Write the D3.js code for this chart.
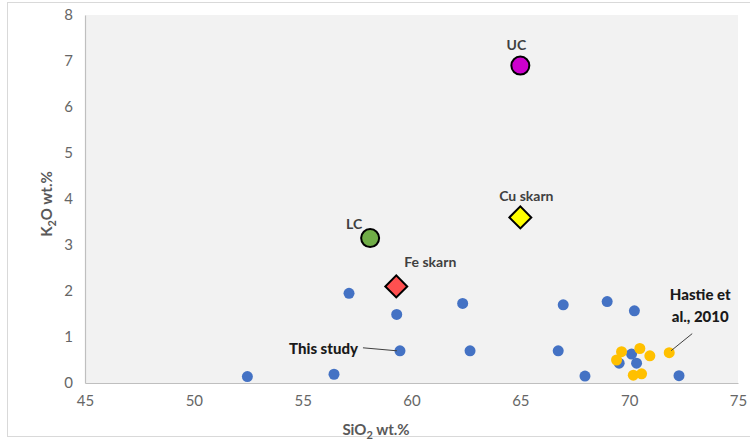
<!DOCTYPE html>
<html>
<head>
  <script src="https://cdnjs.cloudflare.com/ajax/libs/d3/7.8.5/d3.min.js"></script>
  <style>
    body { margin: 0; background: #fff; }
    text { font-family: Lato, "Open Sans", sans-serif; }
  </style>
</head>
<body>
  <div id="chart"></div>

  <script>
    // this study (blue)
    var studySiO2 = [52.46, 56.44, 57.13, 59.32, 59.47, 62.35, 62.69, 66.74, 66.97, 67.97, 68.99, 70.24, 72.29, 70.11, 69.54, 70.34];
    var studyK2O  = [0.14, 0.19, 1.95, 1.49, 0.70, 1.73, 0.70, 0.70, 1.70, 0.15, 1.77, 1.57, 0.16, 0.63, 0.43, 0.43];

    // Hastie et al., 2010 (orange)
    var hastieSiO2 = [69.65, 69.42, 70.49, 70.95, 71.84, 70.19, 70.57];
    var hastieK2O  = [0.68, 0.50, 0.75, 0.59, 0.66, 0.17, 0.20];

    // reference compositions
    var refNames = ["UC", "LC", "Cu skarn", "Fe skarn"];
    var refSiO2  = [65, 58.1, 65, 59.3];
    var refK2O   = [6.9, 3.15, 3.6, 2.1];
    var refShape = ["circle", "circle", "diamond", "diamond"];
    var refColor = ["#cc00cc", "#70ad47", "#ffff00", "#ff5050"];

    var xTicks = [45, 50, 55, 60, 65, 70, 75];
    var yTicks = [0, 1, 2, 3, 4, 5, 6, 7, 8];

    var W = 750, H = 442;
    var plot = { left: 85, right: 738, top: 15, bottom: 383 };

    var svg = d3.select("#chart").append("svg")
      .attr("width", W).attr("height", H);

    // outer chart border
    svg.append("rect")
      .attr("x", 7.5).attr("y", 2.5)
      .attr("width", 760).attr("height", 434)
      .attr("fill", "#fff").attr("stroke", "#d9d9d9");

    var x = d3.scaleLinear().domain([45, 75]).range([plot.left, plot.right]);
    var y = d3.scaleLinear().domain([0, 8]).range([plot.bottom, plot.top]);

    svg.append("rect")
      .attr("x", plot.left).attr("y", plot.top)
      .attr("width", plot.right - plot.left)
      .attr("height", plot.bottom - plot.top)
      .attr("fill", "#f2f2f2");

    var xAxis = svg.append("g")
      .attr("transform", "translate(0," + plot.bottom + ")")
      .call(d3.axisBottom(x).tickValues(xTicks).tickSize(0).tickPadding(12));
    var yAxis = svg.append("g")
      .attr("transform", "translate(" + plot.left + ",0)")
      .call(d3.axisLeft(y).tickValues(yTicks).tickSize(0).tickPadding(12));

    [xAxis, yAxis].forEach(function(a) {
      a.select(".domain").attr("stroke", "#bfbfbf").attr("stroke-width", 1.2);
      a.selectAll("text")
        .style("font-family", "Lato, 'Open Sans', sans-serif")
        .style("font-size", "15px")
        .attr("fill", "#666");
    });

    // axis titles
    var xt = svg.append("text")
      .attr("x", 376).attr("y", 435)
      .attr("text-anchor", "middle")
      .attr("fill", "#595959")
      .style("font-size", "15px").style("font-weight", "bold");
    xt.append("tspan").text("SiO");
    xt.append("tspan").attr("dy", 4).style("font-size", "11px").text("2");
    xt.append("tspan").attr("dy", -4).text(" wt.%");

    var yt = svg.append("text")
      .attr("transform", "translate(52,204) rotate(-90)")
      .attr("text-anchor", "middle")
      .attr("fill", "#595959")
      .style("font-size", "15px").style("font-weight", "bold");
    yt.append("tspan").text("K");
    yt.append("tspan").attr("dy", 4).style("font-size", "11px").text("2");
    yt.append("tspan").attr("dy", -4).text("O wt.%");

    // this study
    svg.append("g").selectAll("circle")
      .data(studySiO2.map(function(d, i) { return [d, studyK2O[i]]; }))
      .enter().append("circle")
      .attr("cx", function(d) { return x(d[0]); })
      .attr("cy", function(d) { return y(d[1]); })
      .attr("r", 5.5)
      .attr("fill", "#4472c4");

    // Hastie et al.
    svg.append("g").selectAll("circle")
      .data(hastieSiO2.map(function(d, i) { return [d, hastieK2O[i]]; }))
      .enter().append("circle")
      .attr("cx", function(d) { return x(d[0]); })
      .attr("cy", function(d) { return y(d[1]); })
      .attr("r", 5.5)
      .attr("fill", "#ffc000");

    // reference markers
    var refs = refNames.map(function(n, i) {
      return { name: n, sx: refSiO2[i], k: refK2O[i], shape: refShape[i], color: refColor[i] };
    });
    var ref = svg.append("g").selectAll("g")
      .data(refs).enter().append("g")
      .attr("transform", function(d) { return "translate(" + x(d.sx) + "," + y(d.k) + ")"; });

    ref.filter(function(d) { return d.shape === "circle"; })
      .append("circle")
      .attr("r", 9)
      .attr("fill", function(d) { return d.color; })
      .attr("stroke", "#000").attr("stroke-width", 2);

    ref.filter(function(d) { return d.shape === "diamond"; })
      .append("path")
      .attr("d", d3.symbol().type(d3.symbolSquare).size(240))
      .attr("transform", "rotate(45)")
      .attr("fill", function(d) { return d.color; })
      .attr("stroke", "#000").attr("stroke-width", 2);

    // label offsets relative to marker
    var labelOff = { "UC": [-4, -21], "LC": [-16, -14], "Cu skarn": [6, -21], "Fe skarn": [34, -24] };
    ref.append("text")
      .attr("x", function(d) { return labelOff[d.name][0]; })
      .attr("y", function(d) { return labelOff[d.name][1]; })
      .attr("dy", "0.35em")
      .attr("text-anchor", "middle")
      .attr("fill", "#404040")
      .style("font-size", "14px").style("font-weight", "bold")
      .text(function(d) { return d.name; });

    // annotations
    var tsx = x(studySiO2[4]), tsy = y(studyK2O[4]);
    svg.append("line")
      .attr("x1", tsx - 37).attr("y1", tsy - 3)
      .attr("x2", tsx - 3).attr("y2", tsy)
      .attr("stroke", "#404040").attr("stroke-width", 1);
    svg.append("text")
      .attr("x", tsx - 42).attr("y", tsy - 2)
      .attr("dy", "0.35em")
      .attr("text-anchor", "end")
      .attr("fill", "#1a1a1a")
      .style("font-size", "15px").style("font-weight", "900")
      .text("This study");

    var hx = x(hastieSiO2[4]), hy = y(hastieK2O[4]);
    svg.append("line")
      .attr("x1", hx + 2).attr("y1", hy - 2)
      .attr("x2", hx + 23).attr("y2", hy - 19)
      .attr("stroke", "#404040").attr("stroke-width", 1);
    var ht = svg.append("text")
      .attr("text-anchor", "middle")
      .attr("fill", "#1a1a1a")
      .style("font-size", "15px").style("font-weight", "900");
    ht.append("tspan").attr("x", hx + 31).attr("y", hy - 53).text("Hastie et");
    ht.append("tspan").attr("x", hx + 31).attr("y", hy - 31).text("al., 2010");
  </script>
</body>
</html>
